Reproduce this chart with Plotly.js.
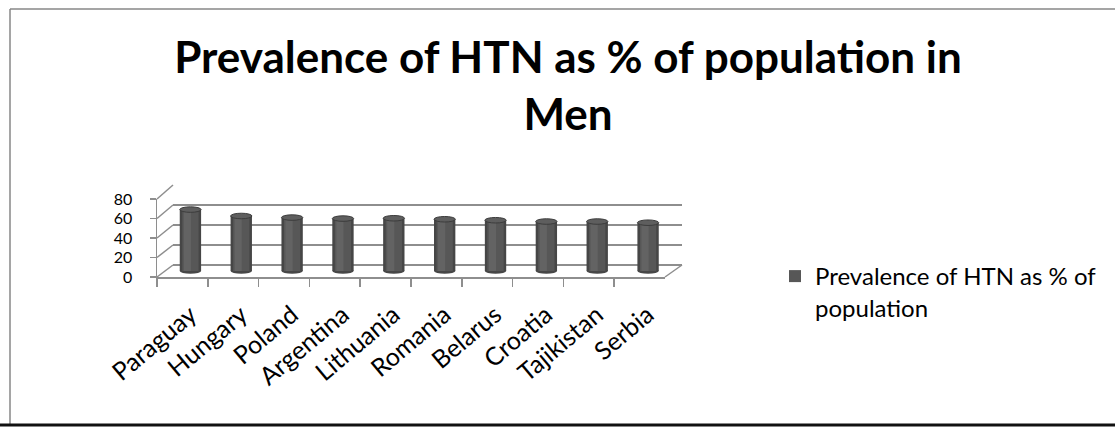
<!DOCTYPE html>
<html>
<head>
<meta charset="utf-8">
<script src="https://cdn.plot.ly/plotly-3.0.1.min.js"></script>
<style>html,body{margin:0;padding:0;background:#fff;}#chart{width:1115px;height:428px;}</style>
</head>
<body>
<div id="chart"></div>
<script>
// ---- data ----
const categories = ['Paraguay','Hungary','Poland','Argentina','Lithuania','Romania','Belarus','Croatia','Tajikistan','Serbia'];
const values = [62.2, 55.7, 54.1, 53.1, 53.4, 52.4, 51.4, 50.1, 50.1, 48.9];
const yTicks = [0, 20, 40, 60, 80];
const seriesName = 'Prevalence of HTN as % of<br>population';
const titleText = 'Prevalence of HTN as % of population in<br>Men';

// ---- geometry (pixels) ----
const W = 1115, H = 428;
const px = x => x / W;
const py = y => 1 - y / H;
const front = {l: 157, r: 665, b: 277, t: 199};
const back  = {l: 173, r: 682, b: 265, t: 185};
const yMax = 80, yMinBars = -10;
const mid = {l: (front.l + back.l) / 2, r: (front.r + back.r) / 2, b: (front.b + back.b) / 2, t: (front.t + back.t) / 2};
const midScale = (mid.b - mid.t) / yMax;
const midBottom = mid.b - yMinBars * midScale;

const gridColor = '#8e8e8e';
const fontFam = 'Lato, "Open Sans", sans-serif';

const fy = v => front.b - (front.b - front.t) * v / yMax;
const by = v => back.b - (back.b - back.t) * v / yMax;

const shapes = [];
// left wall diagonals connecting front axis ticks to back wall gridlines
yTicks.forEach(v => {
  shapes.push({type: 'line', xref: 'paper', yref: 'paper', x0: px(front.l), y0: py(fy(v)), x1: px(back.l), y1: py(by(v)), line: {color: gridColor, width: 1.5}});
});
// right floor diagonal
shapes.push({type: 'line', xref: 'paper', yref: 'paper', x0: px(front.r), y0: py(front.b), x1: px(back.r), y1: py(back.b), line: {color: gridColor, width: 1.5}});
// chart frame
shapes.push({type: 'line', xref: 'paper', yref: 'paper', x0: px(10), y0: py(9), x1: px(1115), y1: py(9), line: {color: '#878787', width: 1.5}});
shapes.push({type: 'line', xref: 'paper', yref: 'paper', x0: px(10), y0: py(9), x1: px(10), y1: py(424), line: {color: '#878787', width: 1.5}});
shapes.push({type: 'line', xref: 'paper', yref: 'paper', x0: 0, y0: py(425), x1: 1, y1: py(425), line: {color: '#111111', width: 3}});

// cylinder caps
const capW = 0.21, capH = 2.8;
values.forEach((v, i) => {
  shapes.push({type: 'circle', xref: 'x3', yref: 'y3', layer: 'below', x0: i - capW, x1: i + capW, y0: -capH, y1: capH, fillcolor: '#474747', line: {width: 0}});
  shapes.push({type: 'circle', xref: 'x3', yref: 'y3', layer: 'above', x0: i - capW, x1: i + capW, y0: v - capH, y1: v + capH, fillcolor: '#5e5e5e', line: {color: '#3c3c3c', width: 1}});
});

const ghost = (xa, ya) => ({type: 'bar', x: categories, y: values, xaxis: xa, yaxis: ya, opacity: 0, marker: {color: '#000'}, showlegend: false, hoverinfo: 'skip'});

const traces = [
  ghost('x', 'y'),
  ghost('x2', 'y2'),
  {type: 'bar', x: categories, y: values, xaxis: 'x3', yaxis: 'y3', width: 0.42, marker: {color: '#464646', line: {width: 0}}, showlegend: false, hoverinfo: 'x+y'},
  {type: 'bar', x: categories, y: values, xaxis: 'x3', yaxis: 'y3', width: 0.32, marker: {color: '#575757', line: {width: 0}}, name: seriesName, showlegend: true, hoverinfo: 'skip'},
  {type: 'bar', x: categories, y: values, xaxis: 'x3', yaxis: 'y3', width: 0.14, offset: -0.13, marker: {color: '#636363', line: {width: 0}}, showlegend: false, hoverinfo: 'skip'}
];

const layout = {
  width: W, height: H,
  margin: {l: 0, r: 0, t: 0, b: 0, autoexpand: false},
  paper_bgcolor: '#ffffff', plot_bgcolor: 'rgba(0,0,0,0)',
  font: {family: fontFam, color: '#000000'},
  barmode: 'overlay',
  title: {text: titleText, font: {family: fontFam, size: 44, weight: 'bold', color: '#000'}, x: 568 / W, xanchor: 'center', xref: 'container', y: py(73), yref: 'container', yanchor: 'top'},
  showlegend: true,
  legend: {x: px(775), y: py(254), xanchor: 'left', yanchor: 'top', font: {family: fontFam, size: 24, color: '#000'}, valign: 'top', bgcolor: 'rgba(0,0,0,0)', borderwidth: 0},
  xaxis: {domain: [px(front.l), px(front.r)], anchor: 'y', type: 'category', range: [-0.5, categories.length - 0.5], tickson: 'boundaries', ticks: 'outside', ticklen: 8, tickcolor: gridColor, tickwidth: 1.5, tickangle: -40, tickfont: {family: fontFam, size: 25, color: '#000'}, ticklabelstandoff: 12, ticklabelshift: 8, showline: true, linecolor: gridColor, linewidth: 1.5, showgrid: false, zeroline: false, fixedrange: true, automargin: false},
  yaxis: {domain: [py(front.b), py(front.t)], anchor: 'x', range: [0, yMax], tickvals: yTicks, ticks: 'outside', ticklen: 6, tickcolor: gridColor, tickwidth: 1.5, tickfont: {family: fontFam, size: 16, color: '#000'}, ticklabelstandoff: 14, showline: true, linecolor: gridColor, linewidth: 1.5, showgrid: false, zeroline: false, fixedrange: true, automargin: false},
  xaxis2: {domain: [px(back.l), px(back.r)], anchor: 'y2', type: 'category', range: [-0.5, categories.length - 0.5], showticklabels: false, ticks: '', showline: false, showgrid: false, zeroline: false, fixedrange: true},
  yaxis2: {domain: [py(back.b), py(back.t)], anchor: 'x2', range: [0, yMax], tickvals: yTicks, showticklabels: false, ticks: '', showline: false, showgrid: true, gridcolor: gridColor, gridwidth: 1.5, zeroline: true, zerolinecolor: gridColor, zerolinewidth: 1.5, fixedrange: true},
  xaxis3: {domain: [px(mid.l), px(mid.r)], anchor: 'y3', type: 'category', range: [-0.5, categories.length - 0.5], visible: false, fixedrange: true},
  yaxis3: {domain: [py(midBottom), py(mid.t)], anchor: 'x3', range: [yMinBars, yMax], visible: false, fixedrange: true},
  shapes: shapes
};

Plotly.newPlot('chart', traces, layout, {displayModeBar: false, staticPlot: true});
</script>
</body>
</html>
